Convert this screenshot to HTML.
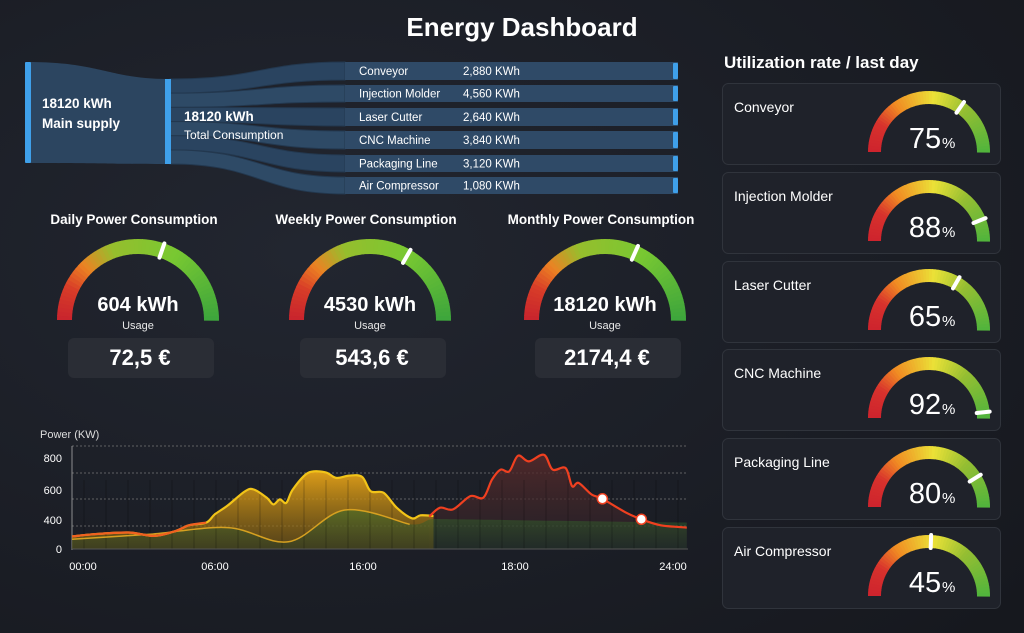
<!DOCTYPE html>
<html><head><meta charset="utf-8"><style>
body{margin:0;background:#1b1e25;width:1024px;height:633px;overflow:hidden;font-family:"Liberation Sans",sans-serif}
svg{display:block}
</style></head><body>
<svg id="s" width="1024" height="633" viewBox="0 0 1024 633" xmlns="http://www.w3.org/2000/svg">
<defs>
<radialGradient id="bg" cx="0.3" cy="0.4" r="0.9"><stop offset="0" stop-color="#222630"/><stop offset="1" stop-color="#16181e"/></radialGradient>
<linearGradient id="ya" x1="0" y1="0" x2="0" y2="1"><stop offset="0" stop-color="#e6a318" stop-opacity="0.95"/><stop offset="1" stop-color="#7a5a10" stop-opacity="0.6"/></linearGradient>
<linearGradient id="ra" x1="0" y1="0" x2="0" y2="1"><stop offset="0" stop-color="#5a2a2a" stop-opacity="0.8"/><stop offset="1" stop-color="#2a2228" stop-opacity="0.6"/></linearGradient>
<linearGradient id="ga" x1="0" y1="0" x2="0" y2="1"><stop offset="0" stop-color="#3a6a2a" stop-opacity="0.6"/><stop offset="1" stop-color="#1e3a2a" stop-opacity="0.4"/></linearGradient>
</defs>
<rect width="1024" height="633" fill="url(#bg)"/>
<text x="522" y="36" fill="#fff" font-size="26" font-weight="bold" text-anchor="middle">Energy Dashboard</text>
<text x="724" y="68" fill="#fff" font-size="17" font-weight="bold">Utilization rate / last day</text>

<g id="sankey"></g>
<g id="gauges"></g>
<g id="chart"></g>
<g id="cards"></g>
</svg>
<script>
const NS="http://www.w3.org/2000/svg";
function el(p,t,a,txt){const e=document.createElementNS(NS,t);for(const k in a)e.setAttribute(k,a[k]);if(txt!==undefined)e.textContent=txt;p.appendChild(e);return e;}
const sk=document.getElementById('sankey');
el(sk,'path',{d:'M28 62 C100 62 110 79 168 79 L168 164 C110 164 100 163 28 163Z',fill:'#2c4560'});
const rows=[[62,80,'Conveyor','2,880 KWh'],[85,102,'Injection Molder','4,560 KWh'],[108,126,'Laser Cutter','2,640 KWh'],[131,149,'CNC Machine','3,840 KWh'],[155,172,'Packaging Line','3,120 KWh'],[177,194,'Air Compressor','1,080 KWh']];
let y0=79;const tot=85;
rows.forEach((r,i)=>{const h=(tot/6);const a=y0+i*h,b=a+h;
 el(sk,'path',{d:`M170 ${a} C260 ${a} 260 ${r[0]} 345 ${r[0]} L345 ${r[1]} C260 ${r[1]} 260 ${b} 170 ${b}Z`,fill:i%2?'#2e4a66':'#2a4460',stroke:'#23384f','stroke-width':1});
 el(sk,'rect',{x:345,y:r[0],width:333,height:r[1]-r[0],fill:'#2f4a67'});
 el(sk,'rect',{x:673,y:r[0]+1,width:5,height:r[1]-r[0]-2,fill:'#3fa0ea',rx:1});
 el(sk,'text',{x:359,y:(r[0]+r[1])/2+4,fill:'#fff','font-size':11.5},r[2]);
 el(sk,'text',{x:463,y:(r[0]+r[1])/2+4,fill:'#fff','font-size':11.5},r[3]);
});
el(sk,'rect',{x:25,y:62,width:6,height:101,fill:'#3fa0ea',rx:1});
el(sk,'rect',{x:165,y:79,width:6,height:85,fill:'#3fa0ea'});
el(sk,'text',{x:42,y:108,fill:'#fff','font-size':13.5,'font-weight':'bold'},'18120 kWh');
el(sk,'text',{x:42,y:128,fill:'#fff','font-size':13.5,'font-weight':'bold'},'Main supply');
el(sk,'text',{x:184,y:121,fill:'#fff','font-size':13.5,'font-weight':'bold'},'18120 kWh');
el(sk,'text',{x:184,y:139,fill:'#fff','font-size':12},'Total Consumption');

function lerp(a,b,t){return a+(b-a)*t}
function col(stops,deg){for(let i=0;i<stops.length-1;i++){const[s0,c0]=stops[i],[s1,c1]=stops[i+1];if(deg<=s0&&deg>=s1){const t=(s0-deg)/(s0-s1);return `rgb(${Math.round(lerp(c0[0],c1[0],t))},${Math.round(lerp(c0[1],c1[1],t))},${Math.round(lerp(c0[2],c1[2],t))})`}}return 'rgb(0,0,0)'}
function gauge(p,cx,cy,r,w,stops,mk){const N=60;for(let i=0;i<N;i++){const a0=Math.PI-i*Math.PI/N,a1=Math.PI-(i+1)*Math.PI/N-0.01;
 const d=180-(i+0.5)*180/N;const ro=r,ri=r-w;
 const pts=`M${cx+ro*Math.cos(a0)} ${cy-ro*Math.sin(a0)} A${ro} ${ro} 0 0 1 ${cx+ro*Math.cos(a1)} ${cy-ro*Math.sin(a1)} L${cx+ri*Math.cos(a1)} ${cy-ri*Math.sin(a1)} A${ri} ${ri} 0 0 0 ${cx+ri*Math.cos(a0)} ${cy-ri*Math.sin(a0)}Z`;
 el(p,'path',{d:pts,fill:col(stops,d)});}
 const a=mk*Math.PI/180,rm=r-w/2;const mx=cx+rm*Math.cos(a),my=cy-rm*Math.sin(a);
 el(p,'line',{x1:mx-(w/2)*Math.cos(a),y1:my+(w/2)*Math.sin(a),x2:mx+(w/2)*Math.cos(a),y2:my-(w/2)*Math.sin(a),stroke:'#fff','stroke-width':4,'stroke-linecap':'round'});}
const st1=[[180,[200,35,45]],[155,[215,60,40]],[135,[235,130,35]],[110,[150,190,45]],[60,[120,200,50]],[0,[60,165,60]]];
const gg=document.getElementById('gauges');
[[138,'Daily Power Consumption','604 kWh','72,5 €',71],[370,'Weekly Power Consumption','4530 kWh','543,6 €',60],[605,'Monthly Power Consumption','18120 kWh','2174,4 €',66]].forEach(g=>{
 const cx=g[0];el(gg,'text',{x:cx-4,y:224,fill:'#fff','font-size':13.5,'font-weight':'bold','text-anchor':'middle'},g[1]);
 gauge(gg,cx,320,81,15,st1,g[4]);
 el(gg,'text',{x:cx,y:311,fill:'#fff','font-size':20,'font-weight':'bold','text-anchor':'middle'},g[2]);
 el(gg,'text',{x:cx,y:329,fill:'#e8e8e8','font-size':11,'text-anchor':'middle'},'Usage');
 el(gg,'rect',{x:cx-70,y:338,width:146,height:40,rx:6,fill:'#2a2d35'});
 el(gg,'text',{x:cx+2,y:365,fill:'#fff','font-size':22,'font-weight':'bold','text-anchor':'middle'},g[3]);
});
const st2=[[180,[205,35,45]],[150,[215,50,45]],[125,[240,140,35]],[85,[235,225,55]],[50,[150,190,50]],[0,[80,180,60]]];
const cd=document.getElementById('cards');
[['Conveyor','75',55],['Injection Molder','88',22],['Laser Cutter','65',60],['CNC Machine','92',6],['Packaging Line','80',32],['Air Compressor','45',88]].forEach((c,i)=>{
 const top=[83,172,261,349,438,527][i];
 el(cd,'rect',{x:722.5,y:top+0.5,width:278,height:81,rx:6,fill:'#1f222a',stroke:'#30343c'});
 el(cd,'text',{x:734,y:top+29,fill:'#fff','font-size':14},c[0]);
 gauge(cd,929,top+69,61,13,st2,c[2]);
 el(cd,'text',{x:925,y:top+65,fill:'#fff','font-size':29,'text-anchor':'middle'},c[1]);
 el(cd,'text',{x:942,y:top+65,fill:'#fff','font-size':15},'%');
});
const ch=document.getElementById('chart');
el(ch,'text',{x:40,y:438,fill:'#ddd','font-size':11},'Power (KW)');
[446,473,499,526].forEach(y=>el(ch,'line',{x1:72,y1:y,x2:688,y2:y,stroke:'#777','stroke-dasharray':'2 2','stroke-width':0.8}));
el(ch,'line',{x1:72,y1:446,x2:72,y2:550,stroke:'#aaa','stroke-width':0.8});
[['800',462],['600',494],['400',524],['0',553]].forEach(t=>el(ch,'text',{x:62,y:t[1],fill:'#fff','font-size':11,'text-anchor':'end'},t[0]));
[['00:00',83],['06:00',215],['16:00',363],['18:00',515],['24:00',673]].forEach(t=>el(ch,'text',{x:t[1],y:570,fill:'#fff','font-size':11,'text-anchor':'middle'},t[0]));
const T=p=>p.map(q=>[20+q[0]*0.433,420+q[1]*0.331]);
const Y=T([[120,352],[170,345],[250,340],[310,350],[360,335],[390,318],[430,310],[450,285],[480,258],[520,215],[540,210],[570,235],[585,255],[600,240],[615,250],[630,210],[665,160],[705,158],[730,175],[760,168],[790,172],[810,215],[840,220],[870,265],[905,297],[925,288],[955,290]]);
const R=T([[945,292],[970,265],[1000,270],[1040,230],[1070,235],[1090,180],[1110,150],[1130,155],[1150,108],[1175,125],[1210,105],[1230,150],[1260,145],[1275,200],[1290,190],[1320,225],[1345,238],[1400,280],[1435,300],[1480,318],[1540,325]]);
const G=T([[120,360],[300,345],[480,325],[620,368],[750,272],[900,315],[950,300],[1000,300],[1540,310]]);
function sm(a){let d=`M${a[0][0].toFixed(1)} ${a[0][1].toFixed(1)}`;for(let i=1;i<a.length;i++){const p0=a[i-2]||a[i-1],p1=a[i-1],p2=a[i],p3=a[i+1]||a[i];
 const c1=[p1[0]+(p2[0]-p0[0])/6,p1[1]+(p2[1]-p0[1])/6],c2=[p2[0]-(p3[0]-p1[0])/6,p2[1]-(p3[1]-p1[1])/6];
 d+=` C${c1[0].toFixed(1)} ${c1[1].toFixed(1)} ${c2[0].toFixed(1)} ${c2[1].toFixed(1)} ${p2[0].toFixed(1)} ${p2[1].toFixed(1)}`;}return d;}
const base=549;
el(ch,'path',{d:sm(R)+` L${R[R.length-1][0]} ${base} L${R[0][0]} ${base}Z`,fill:'url(#ra)'});
el(ch,'path',{d:sm(Y)+` L${Y[Y.length-1][0]} ${base} L${Y[0][0]} ${base}Z`,fill:'url(#ya)'});
el(ch,'path',{d:sm(G)+` L${G[G.length-1][0]} ${base} L${G[0][0]} ${base}Z`,fill:'url(#ga)'});
for(let x=84;x<688;x+=22)el(ch,'line',{x1:x,y1:480,x2:x,y2:549,stroke:'#000','stroke-opacity':0.3,'stroke-width':0.8});
el(ch,'path',{d:sm(G.slice(0,6)),fill:'none',stroke:'#d6a020','stroke-width':1.5});
el(ch,'path',{d:sm(Y),fill:'none',stroke:'#f2c418','stroke-width':2.2});
el(ch,'path',{d:sm(Y.slice(0,7)),fill:'none',stroke:'#f06020','stroke-width':2.2});
el(ch,'path',{d:sm(R),fill:'none',stroke:'#f04020','stroke-width':2.2});
el(ch,'line',{x1:72,y1:549,x2:688,y2:549,stroke:'#555','stroke-width':1});
[[1345,238],[1435,300]].forEach(p=>{const q=T([p])[0];el(ch,'circle',{cx:q[0],cy:q[1],r:5,fill:'#fff',stroke:'#f04020','stroke-width':1.5});});
</script>
</body></html>
